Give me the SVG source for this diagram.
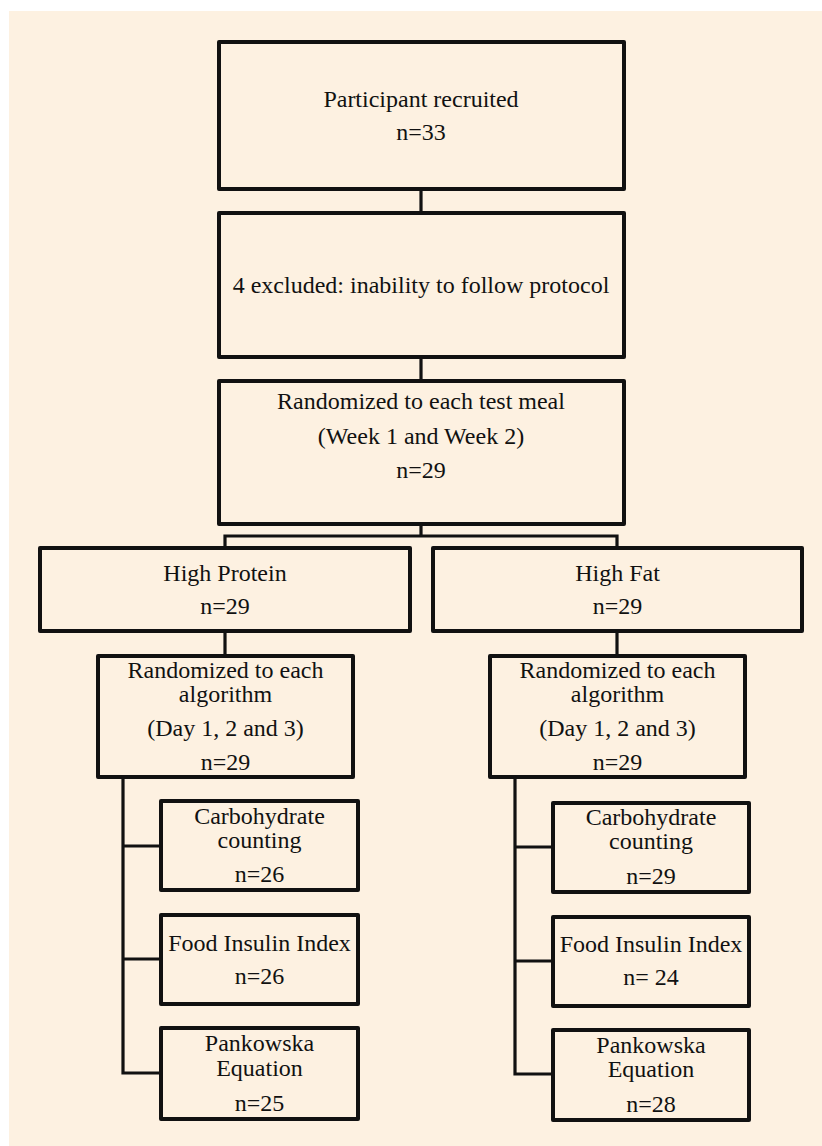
<svg xmlns="http://www.w3.org/2000/svg" width="822" height="1146" viewBox="0 0 822 1146">
<style>
.bg{fill:#fdf1e1}
.box{fill:#fdf1e1;stroke:#111;stroke-width:4;stroke-linejoin:round}
.ln{fill:none;stroke:#111;stroke-width:3.2;stroke-linecap:square}
text{font-family:"Liberation Serif","Times New Roman",serif;font-size:24px;fill:#111;text-anchor:middle}
</style>
<rect x="0" y="0" width="822" height="1146" fill="#ffffff"/>
<rect class="bg" x="9" y="11" width="813" height="1135"/>
<g id="connectors">
<path class="ln" d="M421 189V213"/>
<path class="ln" d="M421 357V381"/>
<path class="ln" d="M421 524V536M225 536H617M225 536V548M617 536V548"/>
<path class="ln" d="M225 631V656"/>
<path class="ln" d="M617 631V656"/>
<path class="ln" d="M123 777V1073M123 846H161M123 959H161M123 1073H161"/>
<path class="ln" d="M515 777V1074M515 847H553M515 961H553M515 1074H553"/>
</g>
<g id="n-recruited">
<rect class="box" x="219" y="42" width="405" height="147"/>
<text x="421" y="107">Participant recruited</text>
<text x="421" y="140">n=33</text>
</g>
<g id="n-excluded">
<rect class="box" x="219" y="213" width="405" height="144"/>
<text x="421" y="293">4 excluded: inability to follow protocol</text>
</g>
<g id="n-randomized-meal">
<rect class="box" x="219" y="381" width="405" height="143"/>
<text x="421" y="409">Randomized to each test meal</text>
<text x="421" y="444">(Week 1 and Week 2)</text>
<text x="421" y="478">n=29</text>
</g>
<g id="n-high-protein">
<rect class="box" x="40" y="548" width="370" height="83"/>
<text x="225" y="581">High Protein</text>
<text x="225" y="614">n=29</text>
</g>
<g id="n-high-fat">
<rect class="box" x="433" y="548" width="369" height="83"/>
<text x="617.5" y="581">High Fat</text>
<text x="617.5" y="614">n=29</text>
</g>
<g id="n-algo-left">
<rect class="box" x="98" y="656" width="255" height="121"/>
<text x="225.5" y="678">Randomized to each</text>
<text x="225.5" y="702">algorithm</text>
<text x="225.5" y="736">(Day 1, 2 and 3)</text>
<text x="225.5" y="770">n=29</text>
</g>
<g id="n-algo-right">
<rect class="box" x="490" y="656" width="255" height="121"/>
<text x="617.5" y="678">Randomized to each</text>
<text x="617.5" y="702">algorithm</text>
<text x="617.5" y="736">(Day 1, 2 and 3)</text>
<text x="617.5" y="770">n=29</text>
</g>
<g id="n-carb-left">
<rect class="box" x="161" y="801" width="197" height="89"/>
<text x="259.5" y="824">Carbohydrate</text>
<text x="259.5" y="848">counting</text>
<text x="259.5" y="882">n=26</text>
</g>
<g id="n-fii-left">
<rect class="box" x="161" y="915" width="197" height="89"/>
<text x="259.5" y="951">Food Insulin Index</text>
<text x="259.5" y="984">n=26</text>
</g>
<g id="n-pank-left">
<rect class="box" x="161" y="1028" width="197" height="91"/>
<text x="259.5" y="1051">Pankowska</text>
<text x="259.5" y="1076">Equation</text>
<text x="259.5" y="1111">n=25</text>
</g>
<g id="n-carb-right">
<rect class="box" x="553" y="803" width="196" height="89"/>
<text x="651" y="825">Carbohydrate</text>
<text x="651" y="849">counting</text>
<text x="651" y="884">n=29</text>
</g>
<g id="n-fii-right">
<rect class="box" x="553" y="917" width="196" height="89"/>
<text x="651" y="952">Food Insulin Index</text>
<text x="651" y="985">n= 24</text>
</g>
<g id="n-pank-right">
<rect class="box" x="553" y="1030" width="196" height="90"/>
<text x="651" y="1053">Pankowska</text>
<text x="651" y="1077">Equation</text>
<text x="651" y="1112">n=28</text>
</g>
</svg>
